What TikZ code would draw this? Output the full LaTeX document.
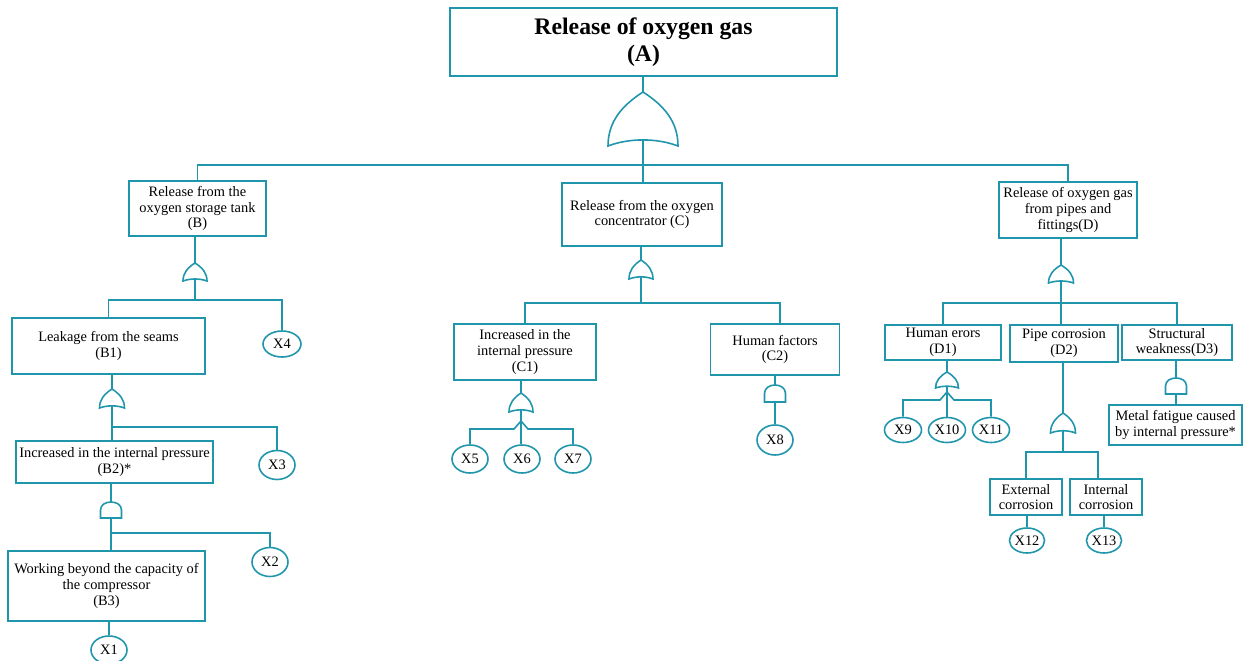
\documentclass[tikz,border=0pt]{standalone}
\usepackage{fontspec}
\setmainfont{Liberation Serif}
\usetikzlibrary{shapes.geometric,calc}
\definecolor{tl}{RGB}{32,150,172}
\newlength\upx
\setlength\upx{0.02cm}
\newcommand\orgate[5]{%
 \coordinate (#1-t) at (#2,#3);
 \coordinate (#1-b) at (#2,{#3+0.8875*#5});
 \draw[gate] (#2,#3) .. controls ({#2+0.3*#4},{#3+0.25*#5}) and ({#2+0.5*#4},{#3+0.55*#5}) .. ({#2+0.5*#4},{#3+#5})
   .. controls ({#2+0.2*#4},{#3+0.85*#5}) and ({#2-0.2*#4},{#3+0.85*#5}) .. ({#2-0.5*#4},{#3+#5})
   .. controls ({#2-0.5*#4},{#3+0.55*#5}) and ({#2-0.3*#4},{#3+0.25*#5}) .. cycle;}
\newcommand\andgate[5]{%
 \coordinate (#1-t) at (#2,#3);
 \coordinate (#1-b) at (#2,{#3+#5});
 \draw[gate] ({#2-0.5*#4},{#3+#5}) -- ({#2-0.5*#4},{#3+0.5*#5})
   .. controls ({#2-0.5*#4},{#3-0.1667*#5}) and ({#2+0.5*#4},{#3-0.1667*#5}) .. ({#2+0.5*#4},{#3+0.5*#5})
   -- ({#2+0.5*#4},{#3+#5}) -- cycle;}
\tikzset{
  box/.style={draw=tl, line width=0.9pt, align=center, inner sep=1pt,
    font=\fontsize{8.2}{9}\selectfont},
  evt/.style={ellipse, draw=tl, line width=0.9pt, inner sep=0pt,
    minimum width=36\upx, minimum height=27\upx, font=\fontsize{8.2}{9}\selectfont},
  gate/.style={draw=tl, line width=0.9pt},
  wire/.style={draw=tl, line width=0.9pt}
}
\begin{document}
\begin{tikzpicture}[x=0.02cm,y=-0.02cm]
\useasboundingbox[fill=white] (0,0) rectangle (1248,660);
% top event
\node[box, minimum width=387\upx, minimum height=68\upx, font=\fontsize{13.5}{15}\selectfont\bfseries] (A) at (643.5,42) {Release of oxygen gas\\(A)};
\orgate{gA}{643}{92}{70}{54}
% level B, C, D
\node[box, minimum width=137\upx, minimum height=55\upx] (B) at (197.5,208.5) {Release from the\\oxygen storage tank\\(B)};
\node[box, minimum width=160\upx, minimum height=63\upx] (C) at (642,214.5) {Release from the oxygen\\concentrator (C)};
\node[box, minimum width=138\upx, minimum height=56\upx] (D) at (1068,210) {Release of oxygen gas\\from pipes and\\fittings(D)};
% B branch
\orgate{gB}{195}{263}{24}{18}
\node[box, minimum width=193\upx, minimum height=56\upx] (B1) at (108.5,346) {Leakage from the seams\\(B1)};
\node[evt, minimum height=26\upx, minimum width=38\upx] (X4) at (282,344) {X4};
\orgate{gB1}{112}{389}{25}{19}
\node[box, minimum width=197\upx, minimum height=42\upx] (B2) at (114.5,462) {Increased in the internal pressure\\(B2)*};
\node[evt, minimum height=29\upx] (X3) at (277,465) {X3};
\andgate{gB2}{111}{502}{21}{16}
\node[box, minimum width=197\upx, minimum height=70\upx] (B3) at (106.5,586) {Working beyond the capacity of\\the compressor\\(B3)};
\node[evt, minimum height=29\upx] (X2) at (270,562) {X2};
\node[evt, minimum height=28\upx] (X1) at (109,650) {X1};
% C branch
\orgate{gC}{641}{260}{24}{19}
\node[box, minimum width=142\upx, minimum height=56\upx] (C1) at (525,352) {Increased in the\\internal pressure\\(C1)};
\node[box, minimum width=129\upx, minimum height=51\upx] (C2) at (775,349.5) {Human factors\\(C2)};
\orgate{gC1}{521}{393}{24}{19}
\node[evt, minimum height=28\upx] (X5) at (470,459) {X5};
\node[evt, minimum height=28\upx] (X6) at (522,459) {X6};
\node[evt, minimum height=28\upx] (X7) at (573,459) {X7};
\andgate{gC2}{775}{385}{21}{17}
\node[evt, minimum height=30\upx] (X8) at (775,440) {X8};
% D branch
\orgate{gD}{1061}{265}{25}{18}
\node[box, minimum width=116\upx, minimum height=35\upx] (D1) at (943,342.5) {Human erors\\(D1)};
\node[box, minimum width=108\upx, minimum height=37\upx] (D2) at (1064,343.5) {Pipe corrosion\\(D2)};
\node[box, minimum width=110\upx, minimum height=35\upx] (D3) at (1177,342.5) {Structural\\weakness(D3)};
\orgate{gD1}{947}{372}{23}{16}
\node[evt, minimum width=37\upx, minimum height=25\upx] (X9) at (903,430) {X9};
\node[evt, minimum width=37\upx, minimum height=25\upx] (X10) at (947,430) {X10};
\node[evt, minimum width=37\upx, minimum height=25\upx] (X11) at (991,430) {X11};
\andgate{gD3}{1176}{378}{21}{16}
\node[box, minimum width=133\upx, minimum height=40\upx] (M) at (1175.5,425) {Metal fatigue caused\\by internal pressure*};
\orgate{gD2}{1063}{413}{25}{20}
\node[box, minimum width=72\upx, minimum height=36\upx] (E) at (1026,497) {External\\corrosion};
\node[box, minimum width=72\upx, minimum height=36\upx] (I) at (1106,497) {Internal\\corrosion};
\node[evt, minimum width=35\upx, minimum height=25\upx] (X12) at (1027,540.5) {X12};
\node[evt, minimum width=35\upx, minimum height=25\upx] (X13) at (1104,540.5) {X13};
% junction points
\coordinate (jA) at (643,165);
\coordinate (jB) at (195,300);
\coordinate (jB1) at (112,427);
\coordinate (jB2) at (111,533);
\coordinate (jC) at (641,303);
\coordinate (pC1) at (521,421);
\coordinate (jD) at (1061,303);
\coordinate (pD1) at (947,392);
\coordinate (jD2) at (1063,452);
% connectors: top
\draw[wire] (gA-t |- A.south) -- (gA-t);
\draw[wire] (gA-b) -- (jA) -- (jA |- C.north);
\draw[wire] (jA) -| (B.north);
\draw[wire] (jA) -| (D.north);
% B
\draw[wire] (gB-t |- B.south) -- (gB-t);
\draw[wire] (gB-b) -- (jB);
\draw[wire] (jB) -| (B1.north);
\draw[wire] (jB) -| (X4.north);
\draw[wire] (gB1-t |- B1.south) -- (gB1-t);
\draw[wire] (gB1-b) -- (jB1) -- (jB1 |- B2.north);
\draw[wire] (jB1) -| (X3.north);
\draw[wire] (gB2-t |- B2.south) -- (gB2-t);
\draw[wire] (gB2-b) -- (jB2) -- (jB2 |- B3.north);
\draw[wire] (jB2) -| (X2.north);
\draw[wire] (X1.north |- B3.south) -- (X1.north);
% C
\draw[wire] (gC-t |- C.south) -- (gC-t);
\draw[wire] (gC-b) -- (jC);
\draw[wire] (jC) -| (C1.north);
\draw[wire] (jC) -| ($(C2.north)+(5,0)$);
\draw[wire] (gC1-t |- C1.south) -- (gC1-t);
\draw[wire] (gC1-b) -- (gC1-b |- X6.north);
\draw[wire] (X5.north) -- (X5.north |- 0,429) -- ($(pC1)+(-7,8)$) -- (pC1) -- ($(pC1)+(7,8)$) -- (X7.north |- 0,429) -- (X7.north);
\draw[wire] (gC2-t |- C2.south) -- (gC2-t);
\draw[wire] (gC2-b) -- (X8.north);
% D
\draw[wire] (gD-t |- D.south) -- (gD-t);
\draw[wire] (gD-b) -- (jD);
\draw[wire] (jD) -| (D1.north);
\draw[wire] (jD) -| (D3.north);
\draw[wire] (jD) -- (jD |- D2.north);
\draw[wire] (gD1-t |- D1.south) -- (gD1-t);
\draw[wire] (gD1-b) -- (X10.north);
\draw[wire] (X9.north) -- (X9.north |- 0,400) -- ($(pD1)+(-7,8)$) -- (pD1) -- ($(pD1)+(7,8)$) -- (X11.north |- 0,400) -- (X11.north);
\draw[wire] (gD3-t |- D3.south) -- (gD3-t);
\draw[wire] (gD3-b) -- (gD3-b |- M.north);
\draw[wire] (gD2-t |- D2.south) -- (gD2-t);
\draw[wire] (gD2-b) -- (jD2);
\draw[wire] (jD2) -| (E.north);
\draw[wire] (jD2) -| ($(I.north)+(-8,0)$);
\draw[wire] (X12.north |- E.south) -- (X12.north);
\draw[wire] (X13.north |- I.south) -- (X13.north);
\end{tikzpicture}
\end{document}
